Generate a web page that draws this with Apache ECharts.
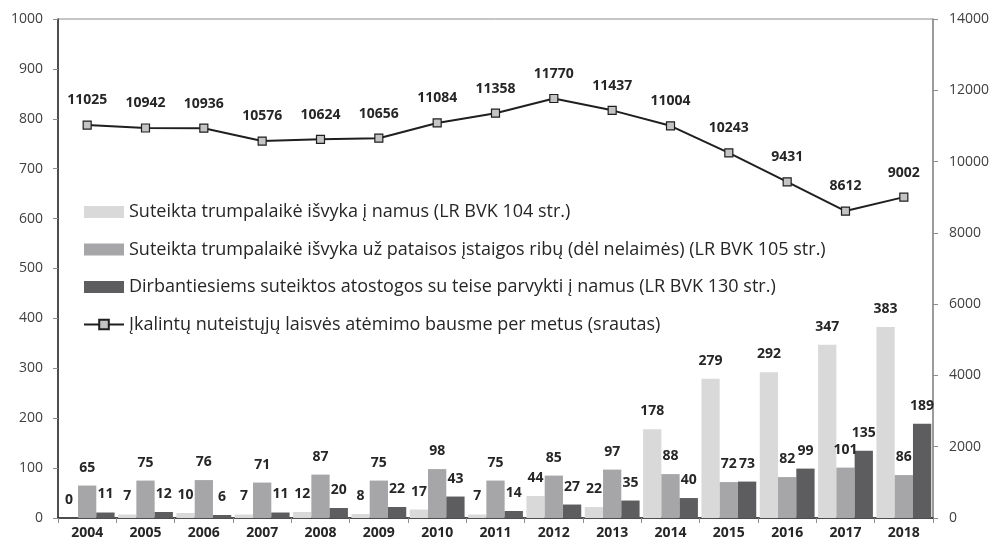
<!DOCTYPE html>
<html>
<head>
<meta charset="utf-8">
<script src="https://cdn.jsdelivr.net/npm/echarts@6/dist/echarts.min.js"></script>
<style>
  html, body { margin: 0; padding: 0; background: #fff; }
  #chart { width: 994px; height: 545px; }
</style>
</head>
<body>
<div id="chart"></div>
<script>
// Years on the category axis
const years = ['2004','2005','2006','2007','2008','2009','2010','2011','2012','2013','2014','2015','2016','2017','2018'];

// Short home leave (LR BVK 104 str.)
const leaveHome = [0, 7, 10, 7, 12, 8, 17, 7, 44, 22, 178, 279, 292, 347, 383];
// Short leave outside the institution (LR BVK 105 str.)
const leaveOutside = [65, 75, 76, 71, 87, 75, 98, 75, 85, 97, 88, 72, 82, 101, 86];
// Holidays for working inmates (LR BVK 130 str.)
const leaveWorkers = [11, 12, 6, 11, 20, 22, 43, 14, 27, 35, 40, 73, 99, 135, 189];
// Inflow of convicts per year (right axis)
const inflow = [11025, 10942, 10936, 10576, 10624, 10656, 11084, 11358, 11770, 11437, 11004, 10243, 9431, 8612, 9002];

const seriesNames = [
  'Suteikta trumpalaikė išvyka į namus (LR BVK 104 str.)',
  'Suteikta trumpalaikė išvyka už pataisos įstaigos ribų (dėl nelaimės) (LR BVK 105 str.)',
  'Dirbantiesiems suteiktos atostogos su teise parvykti į namus (LR BVK 130 str.)',
  'Įkalintų nuteistųjų laisvės atėmimo bausme per metus (srautas)'
];

const FONT = '"Open Sans", "DejaVu Sans", sans-serif';
const plain = v => String(v);

const barLabel = {
  show: true,
  position: 'top',
  distance: 11,
  fontFamily: FONT,
  fontSize: 14,
  fontWeight: 'bold',
  color: '#262626'
};

const chart = echarts.init(document.getElementById('chart'), null, { renderer: 'canvas' });

chart.setOption({
  animation: false,
  backgroundColor: '#ffffff',
  textStyle: { fontFamily: FONT },
  grid: {
    left: 58, right: 61, top: 19, bottom: 27,
    show: true, borderColor: '#8c8c8c', borderWidth: 1
  },
  legend: {
    orient: 'vertical',
    left: 83,
    top: 203,
    padding: 0,
    itemWidth: 40,
    itemHeight: 12,
    itemGap: 19.5,
    textStyle: { fontFamily: FONT, fontSize: 18, color: '#262626' },
    data: [
      { name: seriesNames[0], icon: 'rect' },
      { name: seriesNames[1], icon: 'rect' },
      { name: seriesNames[2], icon: 'rect' },
      { name: seriesNames[3] }
    ]
  },
  xAxis: {
    type: 'category',
    data: years,
    boundaryGap: true,
    axisLine: { lineStyle: { color: '#262626', width: 1.5 } },
    axisTick: { show: true, alignWithLabel: false, length: 5, lineStyle: { color: '#8c8c8c' } },
    axisLabel: { fontFamily: FONT, fontSize: 14, fontWeight: 'bold', color: '#262626', margin: 8 }
  },
  yAxis: [
    {
      type: 'value', min: 0, max: 1000, interval: 100,
      axisLine: { show: true, lineStyle: { color: '#262626', width: 1.5 } },
      axisTick: { show: true, length: 5, lineStyle: { color: '#8c8c8c' } },
      axisLabel: { fontFamily: FONT, fontSize: 14, color: '#404040', margin: 15, formatter: plain },
      splitLine: { show: false }
    },
    {
      type: 'value', min: 0, max: 14000, interval: 2000, position: 'right',
      axisLine: { show: true, lineStyle: { color: '#8c8c8c', width: 1.5 } },
      axisTick: { show: true, length: 5, lineStyle: { color: '#8c8c8c' } },
      axisLabel: { fontFamily: FONT, fontSize: 14, color: '#404040', margin: 16, formatter: plain },
      splitLine: { show: false }
    }
  ],
  series: [
    {
      name: seriesNames[0], type: 'bar', data: leaveHome,
      barGap: '0%', barCategoryGap: '6%',
      itemStyle: { color: '#d9d9da' },
      label: barLabel
    },
    {
      name: seriesNames[1], type: 'bar', data: leaveOutside,
      barGap: '0%', barCategoryGap: '6%',
      itemStyle: { color: '#a6a6a8' },
      label: barLabel
    },
    {
      name: seriesNames[2], type: 'bar', data: leaveWorkers,
      barGap: '0%', barCategoryGap: '6%',
      itemStyle: { color: '#5d5d5f' },
      label: barLabel
    },
    {
      name: seriesNames[3], type: 'line', yAxisIndex: 1, data: inflow,
      symbol: 'rect', symbolSize: 8,
      lineStyle: { color: '#1f1f1f', width: 2 },
      itemStyle: { color: '#c4c4c4', borderColor: '#1f1f1f', borderWidth: 1.2 },
      label: {
        show: true, position: 'top', distance: 13,
        fontFamily: FONT, fontSize: 14, fontWeight: 'bold', color: '#262626'
      },
      z: 5
    }
  ]
});
</script>
</body>
</html>
